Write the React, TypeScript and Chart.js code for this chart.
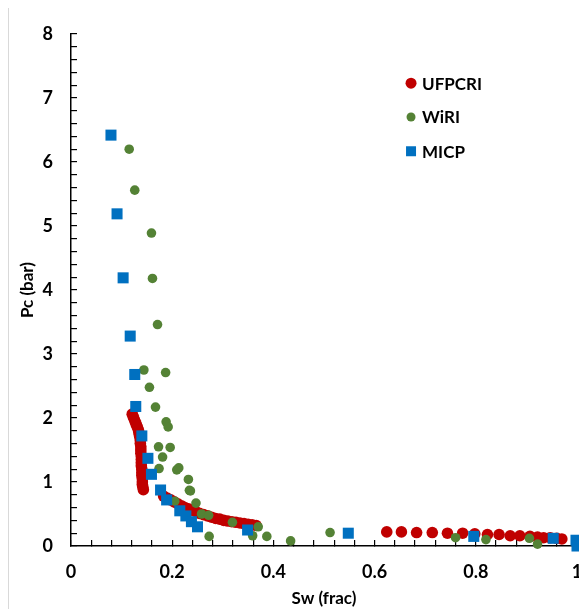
import React, { useEffect, useRef } from "react";
import { Chart, registerables } from "chart.js";

Chart.register(...registerables);

// ---- Data ----
const seriesNames = ["UFPCRI", "WiRI", "MICP"];
const seriesColors = ["#C00000", "#548235", "#0070C0"];

const ufpcriSw = [
  0.121, 0.123, 0.125, 0.127, 0.129, 0.131, 0.133, 0.134, 0.135, 0.136, 0.137, 0.137, 0.138, 0.138,
  0.138, 0.139, 0.139, 0.139, 0.139, 0.14, 0.14, 0.14, 0.141, 0.141, 0.141, 0.142, 0.143,
  0.183, 0.19, 0.197, 0.204, 0.211, 0.218, 0.225, 0.232, 0.239, 0.246, 0.254, 0.262, 0.27, 0.278,
  0.286, 0.294, 0.302, 0.31, 0.318, 0.326, 0.334, 0.342, 0.35, 0.358, 0.366,
  0.624, 0.653, 0.683, 0.714, 0.744, 0.774, 0.798, 0.823, 0.846, 0.868, 0.887, 0.907, 0.922, 0.934,
  0.947, 0.96, 0.97,
];
const ufpcriPc = [
  2.06, 2.02, 1.98, 1.94, 1.9, 1.86, 1.82, 1.78, 1.74, 1.7, 1.65, 1.6, 1.55, 1.5,
  1.45, 1.4, 1.35, 1.3, 1.25, 1.2, 1.15, 1.1, 1.05, 1.0, 0.96, 0.92, 0.88,
  0.78, 0.75, 0.72, 0.69, 0.66, 0.63, 0.6, 0.58, 0.56, 0.54, 0.51, 0.49, 0.47, 0.45,
  0.43, 0.42, 0.4, 0.39, 0.38, 0.37, 0.36, 0.35, 0.34, 0.33, 0.32,
  0.22, 0.22, 0.21, 0.21, 0.2, 0.2, 0.19, 0.18, 0.18, 0.16, 0.16, 0.15, 0.14, 0.13,
  0.13, 0.12, 0.11,
];

const wiriSw = [
  0.115, 0.126, 0.159, 0.161, 0.171, 0.144, 0.187, 0.155, 0.167, 0.188, 0.192, 0.173, 0.196, 0.181,
  0.174, 0.209, 0.213, 0.232, 0.234, 0.236, 0.247, 0.205, 0.258, 0.272, 0.273, 0.319, 0.359, 0.37,
  0.387, 0.434, 0.512, 0.76, 0.82, 0.906, 0.922,
];
const wiriPc = [
  6.2, 5.56, 4.89, 4.18, 3.46, 2.75, 2.71, 2.48, 2.17, 1.94, 1.86, 1.55, 1.54, 1.39,
  1.21, 1.19, 1.22, 1.04, 0.87, 0.86, 0.67, 0.7, 0.5, 0.48, 0.15, 0.37, 0.16, 0.3,
  0.15, 0.08, 0.21, 0.13, 0.1, 0.12, 0.03,
];

const micpSw = [
  0.079, 0.091, 0.103, 0.117, 0.126, 0.128, 0.14, 0.152, 0.159, 0.177, 0.189, 0.215, 0.227, 0.238,
  0.25, 0.349, 0.548, 0.796, 0.953, 0.998, 1.0,
];
const micpPc = [
  6.42, 5.19, 4.19, 3.28, 2.68, 2.18, 1.72, 1.37, 1.12, 0.875, 0.72, 0.55, 0.47, 0.38,
  0.3, 0.25, 0.2, 0.15, 0.12, 0.09, 0.0,
];

const xTickLabels = ["0", "0.2", "0.4", "0.6", "0.8", "1"];
const yTickLabels = ["0", "1", "2", "3", "4", "5", "6", "7", "8"];
const xTitle = "Sw (frac)";
const yTitle = "Pc (bar)";

const FONT = "Lato, 'Open Sans', sans-serif";

function pts(xs: number[], ys: number[]) {
  return xs.map((x, i) => ({ x, y: ys[i] }));
}

const legendPlugin = {
  id: "innerLegend",
  afterDraw(chart: any) {
    const { ctx, chartArea } = chart;
    const w = chartArea.right - chartArea.left;
    const h = chartArea.bottom - chartArea.top;
    const mx = chartArea.left + 0.672 * w;
    const ys = [0.096, 0.162, 0.229].map((f) => chartArea.top + f * h);
    ctx.save();
    ctx.font = `bold 17px ${FONT}`;
    ctx.textBaseline = "middle";
    ctx.textAlign = "left";
    seriesNames.forEach((name, i) => {
      const y = ys[i];
      ctx.fillStyle = seriesColors[i];
      ctx.beginPath();
      if (i === 2) {
        ctx.rect(mx - 5, y - 5, 10, 10);
      } else {
        ctx.arc(mx, y, i === 0 ? 5.5 : 4.5, 0, Math.PI * 2);
      }
      ctx.fill();
      ctx.fillStyle = "#000";
      ctx.fillText(name, mx + 11, y + 1);
    });
    ctx.restore();
  },
};

export default function App() {
  const ref = useRef<HTMLCanvasElement | null>(null);
  useEffect(() => {
    if (!ref.current) return;
    const chart = new Chart(ref.current, {
      type: "scatter",
      data: {
        datasets: [
          {
            label: seriesNames[0],
            data: pts(ufpcriSw, ufpcriPc),
            backgroundColor: seriesColors[0],
            borderWidth: 0,
            pointRadius: 5.8,
            pointStyle: "circle",
            order: 3,
          },
          {
            label: seriesNames[1],
            data: pts(wiriSw, wiriPc),
            backgroundColor: seriesColors[1],
            borderWidth: 0,
            pointRadius: 4.8,
            pointStyle: "circle",
            order: 2,
          },
          {
            label: seriesNames[2],
            data: pts(micpSw, micpPc),
            backgroundColor: seriesColors[2],
            borderWidth: 0,
            pointRadius: 7.8,
            pointStyle: "rect",
            order: 1,
          },
        ],
      },
      options: {
        animation: false,
        responsive: false,
        clip: false as any,
        layout: { padding: { top: 26, right: 10, left: 0, bottom: 0 } },
        plugins: { legend: { display: false }, tooltip: { enabled: false } },
        scales: {
          x: {
            type: "linear",
            min: 0,
            max: 1,
            afterFit: (s: any) => {
              s.height = 63;
              s.paddingLeft = 0;
              s.paddingRight = 5;
            },
            border: { display: true, color: "#000", width: 1.5 },
            grid: { drawOnChartArea: false, color: "#000", tickLength: -6, lineWidth: 1.2 },
            ticks: {
              stepSize: 0.04,
              autoSkip: false,
              maxRotation: 0,
              padding: 21,
              color: "#000",
              font: { family: FONT, size: 18, weight: "bold" },
              callback: (v: any) => {
                const n = Number(v);
                const idx = Math.round(n / 0.2);
                return Math.abs(n - idx * 0.2) < 1e-6 ? xTickLabels[idx] : "";
              },
            },
            title: {
              display: true,
              text: xTitle,
              color: "#000",
              font: { family: FONT, size: 17, weight: "bold" },
              padding: { top: 0, bottom: 0 },
            },
          },
          y: {
            type: "linear",
            min: 0,
            max: 8,
            afterFit: (s: any) => {
              s.width = 62;
              s.paddingTop = 10;
              s.paddingBottom = 10;
            },
            border: { display: true, color: "#000", width: 1.5 },
            grid: { drawOnChartArea: false, color: "#000", tickLength: -6, lineWidth: 1.2 },
            ticks: {
              stepSize: 0.2,
              autoSkip: false,
              padding: 24,
              color: "#000",
              font: { family: FONT, size: 18, weight: "bold" },
              callback: (v: any) => {
                const n = Number(v);
                const idx = Math.round(n);
                return Math.abs(n - idx) < 1e-6 ? yTickLabels[idx] : "";
              },
            },
            title: {
              display: true,
              text: yTitle,
              color: "#000",
              font: { family: FONT, size: 17, weight: "bold" },
              padding: { top: 8, bottom: 0 },
            },
          },
        },
      },
      plugins: [legendPlugin],
    });
    return () => chart.destroy();
  }, []);

  return (
    <div style={{ width: 578, height: 601, borderLeft: "1px solid #d9d9d9" }}>
      <canvas ref={ref} width={578} height={601} style={{ display: "block" }} />
    </div>
  );
}
